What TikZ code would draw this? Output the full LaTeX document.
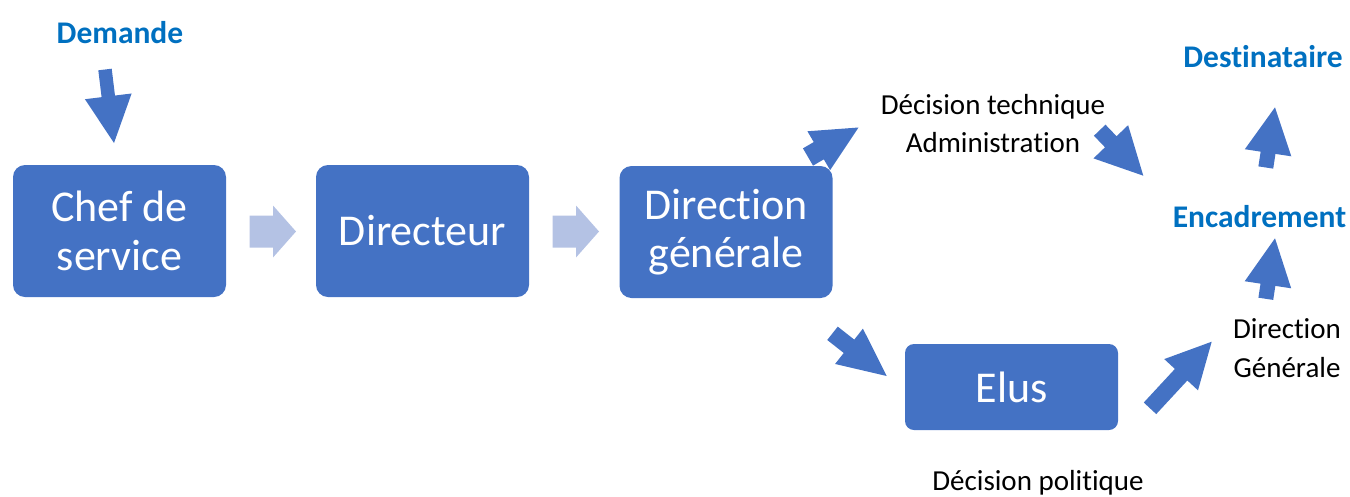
\documentclass[tikz,border=0pt]{standalone}
\usepackage{fontspec}
\setmainfont{Carlito}[Ligatures=CommonOff]
\usetikzlibrary{calc}
\definecolor{boxblue}{HTML}{4472C4}
\definecolor{paleblue}{HTML}{B4C2E4}
\definecolor{headblue}{HTML}{0070C0}

% Block arrow between two named points:
% [style]{tail}{tip}{shaft width}{head width}{head length}
\newcommand\blockarrow[6][]{%
  \coordinate (ba-h) at ($(#3)!#6!(#2)$);
  \fill[#1] ($(#2)!#4/2!90:(#3)$) -- ($(ba-h)!#4/2!90:(#3)$)
    -- ($(ba-h)!#5/2!90:(#3)$) -- (#3) -- ($(ba-h)!#5/2!-90:(#3)$)
    -- ($(ba-h)!#4/2!-90:(#3)$) -- ($(#2)!#4/2!-90:(#3)$) -- cycle;}

\tikzset{
  stage/.style={fill=boxblue, rounded corners=12pt, text=white,
    font=\fontsize{44}{48.5}\selectfont, align=center,
    minimum width=213pt, minimum height=132pt, inner sep=0pt},
  keyword/.style={text=headblue, font=\fontsize{31.5}{38}\selectfont\bfseries,
    inner sep=0pt, anchor=base},
  note/.style={font=\fontsize{29}{38.5}\selectfont, align=center,
    inner sep=0pt, anchor=base},
  flow/.style={fill=boxblue},
  pale/.style={fill=paleblue},
}

\begin{document}
\begin{tikzpicture}[x=1pt, y=-1pt]
\useasboundingbox (0,0) rectangle (1350,496);

% arrow end points
\coordinate (dm-t) at (105,69.5);   \coordinate (dm-h) at (114,143);
\coordinate (p1-t) at (249.5,231.5);\coordinate (p1-h) at (296,231.5);
\coordinate (p2-t) at (552.5,231.5);\coordinate (p2-h) at (599,231.5);
\coordinate (a-t) at (808,157);     \coordinate (a-h) at (858.5,127.5);
\coordinate (b-t) at (1099.7,130.2);\coordinate (b-h) at (1143.3,175.7);
\coordinate (c-t) at (832.5,333.3); \coordinate (c-h) at (886.7,376);
\coordinate (d-t) at (1150,408.3);  \coordinate (d-h) at (1211.7,341.7);
\coordinate (e-t) at (1265.8,167.5);\coordinate (e-h) at (1275,107.3);
\coordinate (f-t) at (1265.8,298.8);\coordinate (f-h) at (1275,238.3);

% arrows
\blockarrow[flow]{dm-t}{dm-h}{13.5pt}{47pt}{47pt}
\blockarrow[pale]{p1-t}{p1-h}{32pt}{52pt}{23pt}
\blockarrow[pale]{p2-t}{p2-h}{32pt}{52pt}{23pt}
\blockarrow[flow]{a-t}{a-h}{20pt}{45pt}{46pt}
\blockarrow[flow]{b-t}{b-h}{16pt}{48pt}{47pt}
\blockarrow[flow]{c-t}{c-h}{17pt}{45pt}{48pt}
\blockarrow[flow]{d-t}{d-h}{17pt}{46pt}{45pt}
\blockarrow[flow]{e-t}{e-h}{15pt}{47pt}{46pt}
\blockarrow[flow]{f-t}{f-h}{15pt}{47pt}{47pt}

% stages
\node[stage] (chef) at (119.5,231) {Chef de\\service};
\node[stage] (dir) at (422.5,231) {Directeur};
\node[stage] (dg) at (726,232) {Direction\\générale};
\node[stage, minimum height=86pt, rounded corners=9pt] (elus) at (1011.5,387) {Elus};

% labels
\node[keyword] (demande) at (120,43) {Demande};
\node[keyword] (dest) at (1263,67) {Destinataire};
\node[keyword] (encad) at (1259.5,227) {Encadrement};
\node[note] (tech) at (993,152.5) {Décision technique\\Administration};
\node[note] (dgnote) at (1287,377) {Direction\\Générale};
\node[note] (poli) at (1038,490) {Décision politique};
\end{tikzpicture}
\end{document}
